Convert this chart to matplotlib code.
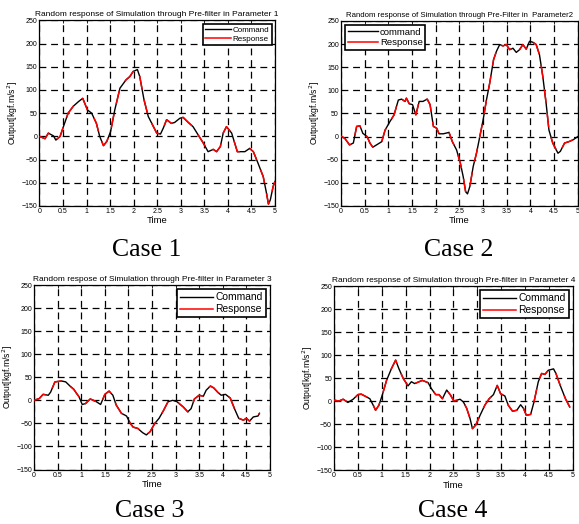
import matplotlib
matplotlib.use("Agg")
import matplotlib.pyplot as plt
import numpy as np

# ---------------- data ----------------
t1 = [0, 0.12, 0.19, 0.3, 0.35, 0.44, 0.5, 0.61, 0.72, 0.83, 0.92, 1.02, 1.11, 1.21, 1.28, 1.36, 1.43,
      1.51, 1.6, 1.71, 1.84, 1.92, 1.99, 2.08, 2.13, 2.22, 2.31, 2.42, 2.49, 2.57, 2.63, 2.7, 2.8, 2.87,
      2.98, 3.05, 3.16, 3.26, 3.37, 3.47, 3.58, 3.69, 3.76, 3.84, 3.9, 3.97, 4.08, 4.2, 4.36, 4.46, 4.54,
      4.64, 4.75, 4.82, 4.86, 4.9, 4.96, 5.0]
v1 = [0, -5, 7, 1, -8, 0, 18, 50, 65, 75, 82, 57, 50, 28, 0, -20, -11,
      10, 57, 104, 122, 129, 140, 144, 129, 79, 43, 21, 7, 5, 18, 36, 28, 30,
      39, 41, 30, 21, 3, -13, -33, -28, -33, -22, 7, 21, 7, -33, -33, -26, -33,
      -58, -87, -123, -146, -137, -108, -97]

t2 = [0, 0.08, 0.18, 0.26, 0.33, 0.4, 0.46, 0.55, 0.61, 0.67, 0.75, 0.86, 0.93, 1.03, 1.12, 1.21, 1.28,
      1.35, 1.38, 1.44, 1.51, 1.58, 1.65, 1.73, 1.82, 1.88, 1.95, 2.02, 2.07, 2.16, 2.28, 2.35, 2.44,
      2.52, 2.58, 2.63, 2.67, 2.72, 2.79, 2.86, 2.93, 3.0, 3.07, 3.14, 3.22, 3.28, 3.35, 3.42, 3.49,
      3.56, 3.63, 3.7, 3.77, 3.84, 3.91, 3.98, 4.05, 4.12, 4.19, 4.26, 4.33, 4.39, 4.47, 4.58, 4.63,
      4.72, 4.81, 4.9, 5.0]
v2 = [1, -4, -18, -14, 22, 23, 7, 0, -14, -23, -18, -11, 14, 32, 47, 79, 81,
      76, 83, 71, 69, 47, 76, 76, 81, 69, 22, 18, 6, 6, 9, -11, -29,
      -58, -87, -119, -124, -108, -65, -36, 0, 36, 79, 116, 166, 184, 199, 196, 199,
      188, 191, 182, 188, 199, 189, 206, 204, 199, 177, 130, 72, 14, -14, -36, -32,
      -14, -11, -7, 0]

t3 = [0, 0.11, 0.19, 0.3, 0.35, 0.44, 0.58, 0.67, 0.76, 0.84, 0.9, 0.95, 1.02, 1.09, 1.19, 1.32, 1.41,
      1.5, 1.59, 1.67, 1.74, 1.85, 1.96, 2.04, 2.1, 2.2, 2.3, 2.38, 2.46, 2.56, 2.65, 2.75, 2.84, 2.94,
      3.03, 3.16, 3.26, 3.33, 3.4, 3.5, 3.59, 3.65, 3.74, 3.81, 3.9, 3.97, 4.06, 4.16, 4.25, 4.34,
      4.44, 4.5, 4.57, 4.65, 4.75, 4.78]
v3 = [0, 4, 13, 11, 18, 40, 42, 40, 31, 24, 15, 8, -9, -7, 3, -3, -9,
      13, 20, 11, -10, -28, -34, -50, -58, -61, -70, -75, -68, -50, -39, -21, -3, 0,
      -3, -14, -25, -18, 3, 11, 9, 22, 31, 27, 17, 11, 13, 5, -18, -39,
      -43, -39, -45, -36, -34, -28]

t4 = [0, 0.1, 0.19, 0.29, 0.4, 0.5, 0.57, 0.68, 0.75, 0.82, 0.87, 0.94, 1.01, 1.1, 1.2, 1.29, 1.36,
      1.45, 1.55, 1.62, 1.69, 1.85, 1.97, 2.04, 2.13, 2.2, 2.27, 2.36, 2.44, 2.51, 2.64, 2.71, 2.78,
      2.85, 2.9, 2.97, 3.06, 3.16, 3.25, 3.34, 3.42, 3.49, 3.58, 3.65, 3.74, 3.83, 3.91, 3.97, 4.03,
      4.12, 4.19, 4.28, 4.35, 4.42, 4.49, 4.6, 4.65, 4.74, 4.85, 4.94]
v4 = [2, 0, 4, -3, 4, 14, 15, 9, 5, -9, -20, -9, 13, 45, 70, 89, 70,
      49, 33, 42, 38, 45, 40, 27, 14, 14, 5, 24, 13, 0, 4, -2, -16,
      -38, -60, -52, -31, -9, 5, 14, 34, 16, 11, -9, -22, -20, -8, -16, -31,
      -29, -2, 42, 60, 58, 67, 70, 60, 34, 5, -13]

titles = ["Random response of Simulation through Pre-filter in Parameter 1",
          "Random response of Simulation through Pre-Filter in  Parameter2",
          "Random respose of Simulation through Pre-filter in Parameter 3",
          "Random response of Simulation through Pre-filter in Parameter 4"]
legend_labels = [["Command", "Response"], ["command", "Response"],
                 ["Command", "Response"], ["Command", "Response"]]
case_labels = ["Case 1", "Case 2", "Case 3", "Case 4"]
xticks = [0, 0.5, 1, 1.5, 2, 2.5, 3, 3.5, 4, 4.5, 5]
xticklabels = ["0", "0.5", "1", "1.5", "2", "2.5", "3", "3.5", "4", "4.5", "5"]
yticks = [-150, -100, -50, 0, 50, 100, 150, 200, 250]

# ---------------- layout ----------------
plt.rcParams['font.family'] = ['Liberation Sans', 'DejaVu Sans']
fig = plt.figure(figsize=(5.79, 5.24), dpi=100)

rects = [[0.068, 0.607, 0.407, 0.354],
         [0.589, 0.607, 0.409, 0.353],
         [0.059, 0.104, 0.407, 0.352],
         [0.577, 0.103, 0.412, 0.351]]
legend_locs = ["upper right", "upper left", "upper right", "upper right"]
legend_fs = [5.8, 6.8, 7.4, 7.4]
title_fs = [6.0, 5.6, 6.0, 6.0]
case_pos = [(0.254, 0.523), (0.793, 0.523), (0.258, 0.024), (0.782, 0.024)]

data = [(t1, v1), (t2, v2), (t3, v3), (t4, v4)]

for i, (t, v) in enumerate(data):
    ax = fig.add_axes(rects[i])
    ax.plot(t, v, color='black', lw=1.0, label=legend_labels[i][0], zorder=3)
    ax.plot(t, v, color='red', lw=1.1, label=legend_labels[i][1], zorder=4,
            dashes=(9, 7))
    ax.set_xlim(0, 5)
    ax.set_ylim(-150, 250)
    ax.set_xticks(xticks)
    ax.set_xticklabels(xticklabels)
    ax.set_yticks(yticks)
    ax.tick_params(direction='in', length=2.5, width=0.6, labelsize=5, pad=1.5,
                   top=True, right=True)
    ax.grid(True, color='black', linestyle=(0, (5.5, 3.8)), linewidth=0.9)
    for s in ax.spines.values():
        s.set_linewidth(0.9)
    ax.set_title(titles[i], fontsize=title_fs[i], pad=3)
    ax.set_xlabel("Time", fontsize=6.8, labelpad=1)
    ax.set_ylabel("Output[kgf.m/s$^2$]", fontsize=6.2, labelpad=1)
    leg = ax.legend(loc=legend_locs[i], fontsize=legend_fs[i], fancybox=False,
                    framealpha=1, edgecolor='black', borderpad=0.3,
                    labelspacing=0.2, handlelength=3.2, handletextpad=0.2,
                    borderaxespad=0.4)
    leg.get_frame().set_linewidth(1.2)
    for h in leg.get_lines():
        h.set_linestyle('-')
    fig.text(case_pos[i][0], case_pos[i][1], case_labels[i],
             family='Liberation Serif', fontsize=18.5, ha='center', va='center')

fig.savefig("out.png", dpi=100)
